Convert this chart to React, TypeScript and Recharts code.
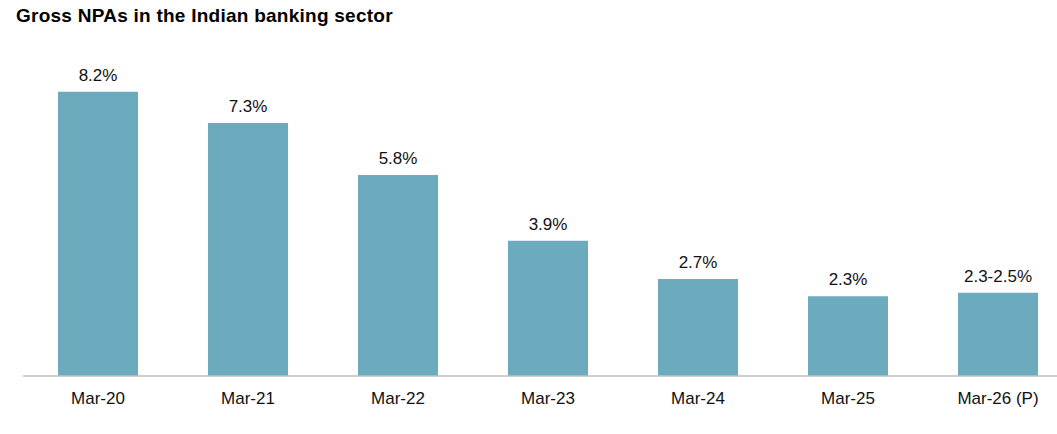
import React from "react";
import { BarChart, Bar, XAxis, YAxis, LabelList } from "recharts";

const periods = ["Mar-20", "Mar-21", "Mar-22", "Mar-23", "Mar-24", "Mar-25", "Mar-26 (P)"];
const npaValues = [8.2, 7.3, 5.8, 3.9, 2.8, 2.3, 2.4];
const npaLabels = ["8.2%", "7.3%", "5.8%", "3.9%", "2.7%", "2.3%", "2.3-2.5%"];

const BAR_COLOR = "#6cabbd";
const FONT = "Arial, 'Liberation Sans', sans-serif";

const data = periods.map((period, i) => ({ period, value: npaValues[i], label: npaLabels[i] }));

function PeriodTick({ x, y, payload }: any) {
  return (
    <text x={x} y={y + 20} textAnchor="middle" fontSize={17} fill="#111" fontFamily={FONT}>
      {payload.value}
    </text>
  );
}

function ValueLabel({ x, y, width, value }: any) {
  return (
    <text x={x + width / 2} y={y - 11} textAnchor="middle" fontSize={17} fill="#111" fontFamily={FONT}>
      {value}
    </text>
  );
}

export default function App() {
  return (
    <div
      style={{
        position: "absolute",
        left: 0,
        top: 0,
        width: 1057,
        height: 434,
        overflow: "hidden",
        background: "#fff",
      }}
    >
      <div
        style={{
          position: "absolute",
          left: 16,
          top: 5,
          fontFamily: FONT,
          fontWeight: "bold",
          fontSize: 19,
          letterSpacing: 0.25,
          color: "#000",
          whiteSpace: "nowrap",
        }}
      >
        Gross NPAs in the Indian banking sector
      </div>
      <BarChart
        width={1075}
        height={434}
        data={data}
        margin={{ top: 64, right: 2, left: 23, bottom: 28 }}
      >
        <YAxis hide domain={[0, 9]} />
        <XAxis
          dataKey="period"
          height={30}
          tickLine={false}
          axisLine={{ stroke: "#bfbfbf", strokeWidth: 1.5 }}
          tick={<PeriodTick />}
          interval={0}
        />
        <Bar dataKey="value" fill={BAR_COLOR} barSize={80} isAnimationActive={false}>
          <LabelList dataKey="label" content={<ValueLabel />} />
        </Bar>
      </BarChart>
    </div>
  );
}
